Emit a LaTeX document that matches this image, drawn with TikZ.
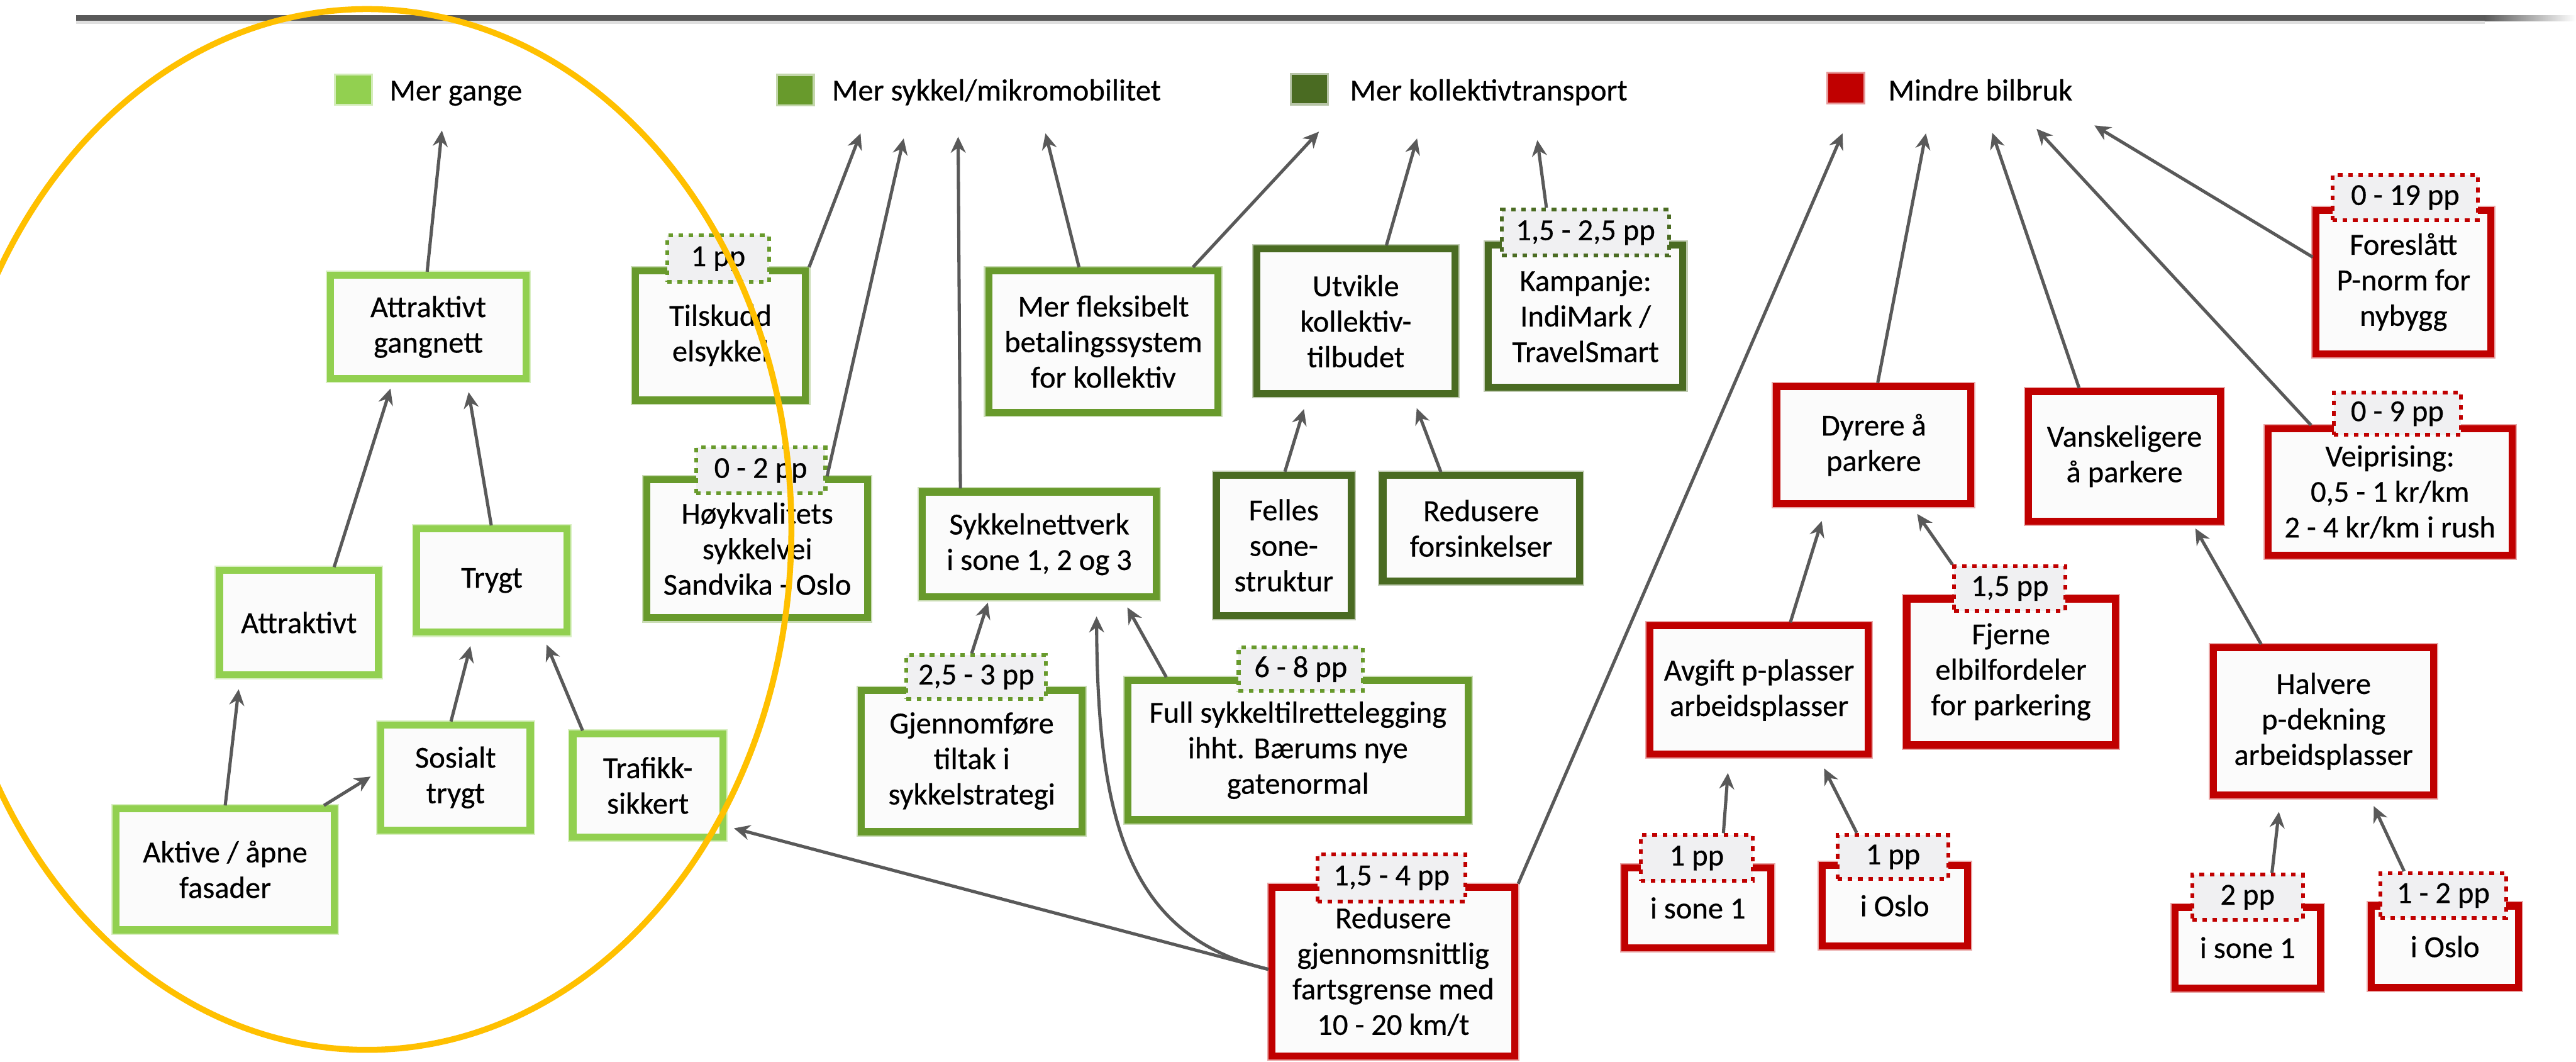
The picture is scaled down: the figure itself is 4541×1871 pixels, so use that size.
\documentclass[tikz,border=0pt]{standalone}
\usepackage{fontspec}
\setmainfont{Carlito}[FakeBold=0.5]
\usetikzlibrary{arrows.meta,calc}

\definecolor{lysgronn}{HTML}{92D050}
\definecolor{gronn}{HTML}{689A2C}
\definecolor{morkgronn}{HTML}{4A6B22}
\definecolor{rod}{HTML}{C00000}
\definecolor{pilgraa}{HTML}{595959}
\definecolor{boksfyll}{HTML}{FBFBFB}
\definecolor{ppfyll}{HTML}{F0F0F2}
\definecolor{ring}{HTML}{FFC000}

\tikzset{
  sz/.style 2 args={minimum width=#1cm,minimum height=#2cm},
  boks/.style={draw=#1,line width=3.5pt,fill=boksfyll,align=center,inner sep=0pt,
    preaction={draw=#1!35,line width=4.8pt}},
  pp/.style={draw=#1,line width=1.9pt,dash pattern=on 2.3pt off 2.8pt,fill=ppfyll,inner sep=0pt},
  rute/.style={fill=#1,draw=#1!40,line width=1pt,inner sep=0pt},
  pil/.style={draw=pilgraa,line width=1.6pt,-{Stealth[length=8pt,width=7.5pt]}},
}

\begin{document}
\begin{tikzpicture}[x=0.01cm,y=-0.01cm,font=\fontsize{15.3}{17.8}\selectfont]
    \useasboundingbox (0,0) rectangle (4541,1871);
    \fill[white] (0,0) rectangle (4541,1871);
    \clip (0,0) rectangle (4541,1871);
    % topplinje
    \fill[gray!25] (134,37) rectangle (4380,42);
    \fill[pilgraa] (134,27) rectangle (4380,37);
    \shade[left color=pilgraa,right color=white] (4380,27) rectangle (4541,37);

    % mal
    \node[rute=lysgronn,sz={0.65}{0.54}] (gangesq) at (623,158) {};
    \node[anchor=base west,inner sep=0pt] (gange) at (686,177) {Mer gange};
    \node[rute=gronn,sz={0.65}{0.54}] (sykkelsq) at (1402,159) {};
    \node[anchor=base west,inner sep=0pt] (sykkel) at (1466,177) {Mer sykkel/mikromobilitet};
    \node[rute=morkgronn,sz={0.65}{0.54}] (kollsq) at (2308,157) {};
    \node[anchor=base west,inner sep=0pt] (koll) at (2379,177) {Mer kollektivtransport};
    \node[rute=rod,sz={0.65}{0.54}] (bilsq) at (3254,155) {};
    \node[anchor=base west,inner sep=0pt] (bil) at (3328,177) {Mindre bilbruk};

    \coordinate (g1) at (779,230);
    \coordinate (s1) at (1517,235);
    \coordinate (s2) at (1593,244);
    \coordinate (s3) at (1689,241);
    \coordinate (s4) at (1843,235);
    \coordinate (k1) at (2325,232);
    \coordinate (k2) at (2498,244);
    \coordinate (k3) at (2710,247);
    \coordinate (m1) at (3248,235);
    \coordinate (m2) at (3395,235);
    \coordinate (m3) at (3512,234);
    \coordinate (m4) at (3590,227);
    \coordinate (m5) at (3692,221);

    % gange
    \node[boks=lysgronn,sz={3.45}{1.82}] (gangnett) at (755,576) {Attraktivt\\gangnett};
    \node[boks=lysgronn,sz={2.80}{1.83}] (attr) at (527,1097) {Attraktivt};
    \node[boks=lysgronn,sz={2.64}{1.82}] (trygt) at (867,1023) {Trygt};
    \node[boks=lysgronn,sz={2.63}{1.85}] (sosialt) at (803,1370) {Sosialt\\trygt};
    \node[boks=lysgronn,sz={2.64}{1.81}] (trafikk) at (1142,1384) {Trafikk-\\sikkert};
    \node[boks=lysgronn,sz={3.84}{2.13}] (aktive) at (397,1532) {Aktive / åpne\\fasader};

    % sykkel
    \node[boks=gronn,sz={3.00}{2.28}] (tilskudd) at (1270,591) {Tilskudd\\elsykkel};
    \node[boks=gronn,sz={3.89}{2.43}] (hoyk) at (1335,967) {Høykvalitets\\sykkelvei\\Sandvika - Oslo};
    \node[boks=gronn,sz={4.12}{1.84}] (sykkelnett) at (1832,959) {Sykkelnettverk\\i sone 1, 2 og 3};
    \node[boks=gronn,sz={4.04}{2.50}] (fleks) at (1945,602) {Mer fleksibelt\\betalingssystem\\for kollektiv};
    \node[boks=gronn,sz={3.89}{2.49}] (gjennom) at (1713,1341) {Gjennomføre\\tiltak i\\sykkelstrategi};
    \node[boks=gronn,sz={5.99}{2.45}] (fullsykkel) at (2288,1322) {Full sykkeltilrettelegging\\ihht. Bærums nye\\gatenormal};

    % kollektiv
    \node[boks=morkgronn,sz={3.49}{2.55}] (utvikle) at (2390,566) {Utvikle\\kollektiv-\\tilbudet};
    \node[boks=morkgronn,sz={3.43}{2.50}] (kampanje) at (2795,557) {Kampanje:\\IndiMark /\\TravelSmart};
    \node[boks=morkgronn,sz={2.37}{2.47}] (felles) at (2263,961) {Felles\\sone-\\struktur};
    \node[boks=morkgronn,sz={3.46}{1.86}] (forsink) at (2611,931) {Redusere\\forsinkelser};

    % bilbruk
    \node[boks=rod,sz={4.28}{2.97}] (fart) at (2456,1712) {Redusere\\gjennomsnittlig\\fartsgrense med\\10 - 20 km/t};
    \node[boks=rod,sz={3.42}{2.06}] (dyrere) at (3303,784) {Dyrere å\\parkere};
    \node[boks=rod,sz={3.38}{2.28}] (vansk) at (3745,804) {Vanskeligere\\å parkere};
    \node[boks=rod,sz={4.30}{2.23}] (veipris) at (4213,867) {Veiprising:\\0,5 - 1 kr/km\\2 - 4 kr/km i rush};
    \node[boks=rod,sz={3.08}{2.53}] (foreslatt) at (4237,497) {Foreslått\\P-norm for\\nybygg};
    \node[boks=rod,sz={3.85}{2.26}] (avgift) at (3101,1216) {Avgift p-plasser\\arbeidsplasser};
    \node[boks=rod,sz={3.67}{2.57}] (fjerne) at (3545,1184) {Fjerne\\elbilfordeler\\for parkering};
    \node[boks=rod,sz={3.88}{2.59}] (halvere) at (4096,1271) {Halvere\\p-dekning\\arbeidsplasser};
    \node[boks=rod,sz={2.57}{1.41}] (sone1a) at (2993,1600) {i sone 1};
    \node[boks=rod,sz={2.56}{1.42}] (osloa) at (3340,1596) {i Oslo};
    \node[boks=rod,sz={2.56}{1.42}] (sone1b) at (3962,1670) {i sone 1};
    \node[boks=rod,sz={2.59}{1.43}] (oslob) at (4310,1668) {i Oslo};

    % prosentpoeng
    \node[pp=gronn,sz={1.79}{0.82}] (tilskuddpp) at (1266,456) {1 pp};
    \node[pp=gronn,sz={2.28}{0.81}] (hoykpp) at (1341,829) {0 - 2 pp};
    \node[pp=gronn,sz={2.46}{0.77}] (gjennompp) at (1721,1193) {2,5 - 3 pp};
    \node[pp=gronn,sz={2.19}{0.77}] (fullsykkelpp) at (2293,1179) {6 - 8 pp};
    \node[pp=morkgronn,sz={2.94}{0.81}] (kampanjepp) at (2795,410) {1,5 - 2,5 pp};
    \node[pp=rod,sz={2.61}{0.84}] (fartpp) at (2453,1547) {1,5 - 4 pp};
    \node[pp=rod,sz={2.24}{0.75}] (veiprispp) at (4226,729) {0 - 9 pp};
    \node[pp=rod,sz={2.56}{0.79}] (foreslattpp) at (4240,348) {0 - 19 pp};
    \node[pp=rod,sz={1.96}{0.78}] (fjernepp) at (3543,1037) {1,5 pp};
    \node[pp=rod,sz={1.98}{0.81}] (sone1app) at (2991,1512) {1 pp};
    \node[pp=rod,sz={1.95}{0.78}] (osloapp) at (3337,1510) {1 pp};
    \node[pp=rod,sz={1.95}{0.79}] (sone1bpp) at (3962,1581) {2 pp};
    \node[pp=rod,sz={2.22}{0.79}] (oslobpp) at (4307,1578) {1 - 2 pp};

    % piler
    \draw[pil] ($(gangnett.north)+(-2,0)$) -- (g1);
    \draw[pil,shorten >=0.12cm] ($(attr.north)+(62,0)$) -- ($(gangnett.south)+(-63,0)$);
    \draw[pil,shorten >=0.18cm] ($(trygt.north)+(-1,0)$) -- ($(gangnett.south)+(68,0)$);
    \draw[pil,shorten >=0.2cm] (aktive.north) -- ($(attr.south)+(-104,0)$);
    \draw[pil,shorten >=0.14cm] ($(aktive.north)+(174,0)$) -- ($(sosialt.west)+(0,-9)$);
    \draw[pil,shorten >=0.19cm] ($(sosialt.north)+(-8,0)$) -- ($(trygt.south)+(-33,0)$);
    \draw[pil,shorten >=0.17cm] ($(trafikk.north)+(-115,0)$) -- ($(trygt.south)+(90,0)$);
    \draw[pil,shorten >=0.14cm] ($(fart.west)+(0,-4)$) -- ($(trafikk.east)+(0,72)$);

    \draw[pil] (tilskudd.north east) -- (s1);
    \draw[pil] ($(hoyk.north)+(123,0)$) -- (s2);
    \draw[pil] ($(sykkelnett.north)+(-139,0)$) -- (s3);
    \draw[pil] ($(fleks.north)+(-43,0)$) -- (s4);
    \draw[pil] ($(fleks.north)+(158,0)$) -- (k1);
    \draw[pil] ($(utvikle.north)+(54,0)$) -- (k2);
    \draw[pil] ($(kampanjepp.north)+(-69,0)$) -- (k3);
    \draw[pil,shorten >=0.22cm] ($(felles.north)+(2,0)$) -- ($(utvikle.south)+(-85,0)$);
    \draw[pil,shorten >=0.21cm] ($(forsink.north)+(-71,0)$) -- ($(utvikle.south)+(100,0)$);
    \draw[pil,shorten >=0.05cm] ($(gjennompp.north)+(-8,0)$) -- ($(sykkelnett.south)+(-89,0)$);
    \draw[pil,shorten >=0.15cm] ($(fullsykkel.north)+(-232,0)$) -- ($(sykkelnett.south)+(148,0)$);
    \draw[pil] ($(fart.west)+(0,-4)$) .. controls (1990,1650) and (1935,1450) .. ($(sykkelnett.south)+(101,29)$);

    \draw[pil] (fart.north east) -- (m1);
    \draw[pil] ($(dyrere.north)+(7,0)$) -- (m2);
    \draw[pil] ($(vansk.north)+(-80,0)$) -- (m3);
    \draw[pil] ($(veipris.north)+(-139,0)$) -- (m4);
    \draw[pil] ($(foreslatt.west)+(0,-44)$) -- (m5);
    \draw[pil,shorten >=0.26cm] ($(avgift.north)+(55,0)$) -- ($(dyrere.south)+(-84,0)$);
    \draw[pil,shorten >=0.15cm] (fjernepp.north west) -- ($(dyrere.south)+(68,0)$);
    \draw[pil,shorten >=0.08cm] ($(halvere.north)+(-110,0)$) -- ($(vansk.south)+(121,0)$);
    \draw[pil,shorten >=0.27cm] ($(sone1app.north)+(47,0)$) -- ($(avgift.south)+(-53,0)$);
    \draw[pil,shorten >=0.21cm] ($(osloapp.north)+(-64,0)$) -- ($(avgift.south)+(105,0)$);
    \draw[pil,shorten >=0.24cm] ($(sone1bpp.north)+(43,0)$) -- ($(halvere.south)+(-76,0)$);
    \draw[pil,shorten >=0.15cm] ($(oslobpp.north)+(-69,0)$) -- ($(halvere.south)+(82,0)$);

    % ring rundt gange
    \draw[ring,line width=3pt] (647,933) ellipse [x radius=748,y radius=917];
\end{tikzpicture}
\end{document}
